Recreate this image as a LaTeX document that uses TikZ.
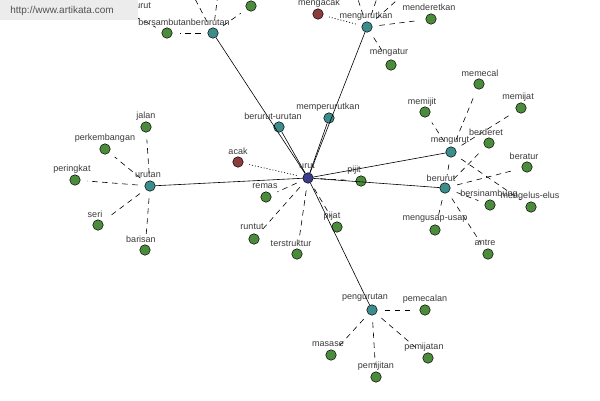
\documentclass[tikz,border=0pt]{standalone}
\usepackage{fontspec}
\setmainfont{Liberation Sans}
\definecolor{gnode}{HTML}{4A8C3C}
\definecolor{tnode}{HTML}{3C8C8C}
\definecolor{rnode}{HTML}{8C3C3C}
\definecolor{bnode}{HTML}{3C3C8C}
\definecolor{txt}{HTML}{3A3A3A}
\definecolor{wm}{HTML}{ECECEC}
\tikzset{
  vtx/.style={circle,draw=black,line width=0.5pt,minimum size=10.5pt,inner sep=0pt},
  gv/.style={vtx,fill=gnode},
  tv/.style={vtx,fill=tnode},
  rv/.style={vtx,fill=rnode},
  bv/.style={vtx,fill=bnode},
  lbl/.style={font=\fontsize{9}{10}\selectfont,text=txt,inner sep=0pt},
  solidedge/.style={draw=black,line width=0.6pt},
  dashedge/.style={draw=black,line width=0.6pt,dash pattern=on 5.5pt off 4.5pt,shorten <=7pt,shorten >=7pt},
  dotedge/.style={draw=black,line width=0.7pt,dash pattern=on 1pt off 2pt,shorten <=6pt,shorten >=6pt},
}
\begin{document}
\begin{tikzpicture}[x=1pt,y=-1pt]
\useasboundingbox (0,0) rectangle (600,400);
\clip (0,0) rectangle (600,400);
\fill[white] (0,0) rectangle (600,400);
% nodes
\node[bv] (urut) at (308,178) {};
\node[tv] (urutan) at (150,186) {};
\node[tv] (berurutUrutan) at (279,127) {};
\node[tv] (memperurutkan) at (329,118) {};
\node[tv] (pengurutan) at (372,310) {};
\node[tv] (mengurut) at (451,152) {};
\node[tv] (berurut) at (445,188) {};
\node[tv] (mengurutkan) at (367,27) {};
\node[tv] (bersambutan) at (213,33) {};
\node[rv] (acak) at (238,162) {};
\node[rv] (mengacak) at (318,14) {};
\node[gv] (jalan) at (146,127) {};
\node[gv] (perkembangan) at (105,149) {};
\node[gv] (peringkat) at (75,180) {};
\node[gv] (seri) at (98,225) {};
\node[gv] (barisan) at (145,250) {};
\node[gv] (remas) at (266,197) {};
\node[gv] (runtut) at (254,239) {};
\node[gv] (terstruktur) at (297,254) {};
\node[gv] (pijit) at (361,181) {};
\node[gv] (pijat) at (337,227) {};
\node[gv] (pemecalan) at (425,310) {};
\node[gv] (masase) at (331,355) {};
\node[gv] (pemijitan) at (376,377) {};
\node[gv] (pemijatan) at (428,358) {};
\node[gv] (memecal) at (479,84) {};
\node[gv] (memijit) at (425,112) {};
\node[gv] (memijat) at (521,108) {};
\node[gv] (berderet) at (489,143) {};
\node[gv] (beratur) at (527,167) {};
\node[gv] (bersinambung) at (490,205) {};
\node[gv] (mengeluselus) at (531,207) {};
\node[gv] (mengusapusap) at (435,230) {};
\node[gv] (antre) at (488,254) {};
\node[gv] (menderetkan) at (431,19) {};
\node[gv] (mengatur) at (391,65) {};
\node[gv] (gA) at (167,33) {};
\node[gv] (gB) at (251,6) {};
\node[gv] (hidden) at (124,11) {};
\coordinate (offA) at (350,-25);
\coordinate (offB) at (385,-25);
\coordinate (offC) at (425,-25);
\coordinate (offD) at (185,-20);
\coordinate (offE) at (221,-30);
% edges
\path[solidedge] (urut) -- (urutan);
\path[solidedge] (urut) -- (berurutUrutan);
\path[solidedge] (urut) -- (bersambutan);
\path[solidedge] (urut) -- (memperurutkan);
\path[solidedge] (urut) -- (mengurutkan);
\path[solidedge] (urut) -- (mengurut);
\path[solidedge] (urut) -- (berurut);
\path[solidedge] (urut) -- (pengurutan);
\path[dotedge] (urut) -- (acak);
\path[dotedge] (mengurutkan) -- (mengacak);
\foreach \t in {remas,runtut,terstruktur,pijit,pijat}
  \path[dashedge] (urut) -- (\t);
\foreach \t in {jalan,perkembangan,peringkat,seri,barisan}
  \path[dashedge] (urutan) -- (\t);
\foreach \t in {pemecalan,masase,pemijitan,pemijatan}
  \path[dashedge] (pengurutan) -- (\t);
\foreach \t in {memecal,memijit,memijat,mengeluselus,berurut}
  \path[dashedge] (mengurut) -- (\t);
\foreach \t in {berderet,beratur,bersinambung,mengusapusap,antre}
  \path[dashedge] (berurut) -- (\t);
\foreach \t in {menderetkan,mengatur,offA,offB,offC}
  \path[dashedge] (mengurutkan) -- (\t);
\foreach \t in {gA,gB,offD,offE}
  \path[dashedge] (bersambutan) -- (\t);
\path[dashedge] (hidden) -- (gA);
% labels
\node[lbl] (l-urut) at (307,166) {urut};
\node[lbl] (l-urutan) at (148,175) {urutan};
\node[lbl] (l-jalan) at (146,116) {jalan};
\node[lbl] (l-perkembangan) at (105,138) {perkembangan};
\node[lbl] (l-peringkat) at (72,169) {peringkat};
\node[lbl] (l-seri) at (95,214) {seri};
\node[lbl] (l-barisan) at (141,239) {barisan};
\node[lbl] (l-acak) at (238,151) {acak};
\node[lbl] (l-berurutUrutan) at (273,116) {berurut-urutan};
\node[lbl] (l-memperurutkan) at (328,107) {memperurutkan};
\node[lbl] (l-remas) at (265,186) {remas};
\node[lbl] (l-runtut) at (252,227) {runtut};
\node[lbl] (l-terstruktur) at (291,243) {terstruktur};
\node[lbl] (l-pijit) at (354,170) {pijit};
\node[lbl] (l-pijat) at (332,216) {pijat};
\node[lbl] (l-pengurutan) at (365,298) {pengurutan};
\node[lbl] (l-pemecalan) at (425,299) {pemecalan};
\node[lbl] (l-masase) at (328,344) {masase};
\node[lbl] (l-pemijitan) at (376,366) {pemijitan};
\node[lbl] (l-pemijatan) at (424,347) {pemijatan};
\node[lbl] (l-mengurut) at (450,141) {mengurut};
\node[lbl] (l-berurut) at (441,178) {berurut};
\node[lbl] (l-memecal) at (480,73) {memecal};
\node[lbl] (l-memijit) at (422,102) {memijit};
\node[lbl] (l-memijat) at (518,97) {memijat};
\node[lbl] (l-berderet) at (486,132) {berderet};
\node[lbl] (l-beratur) at (524,156) {beratur};
\node[lbl] (l-bersinambung) at (489,194) {bersinambung};
\node[lbl] (l-mengeluselus) at (530,196) {mengelus-elus};
\node[lbl] (l-mengusapusap) at (435,219) {mengusap-usap};
\node[lbl] (l-antre) at (485,243) {antre};
\node[lbl] (l-mengurutkan) at (366,16) {mengurutkan};
\node[lbl] (l-mengacak) at (319,3.5) {mengacak};
\node[lbl] (l-menderetkan) at (429,7) {menderetkan};
\node[lbl] (l-mengatur) at (389,53) {mengatur};
\node[lbl] (l-bersambutan) at (184,22) {bersambutanberurutan};
\node[lbl,anchor=east] (l-hidden) at (151,6) {urut};
% watermark
\fill[wm] (0,0) rectangle (138,20);
\node[font=\fontsize{10}{12}\selectfont,text=black!68,inner sep=0pt] (wmtext) at (62,10.5) {http://www.artikata.com};
\end{tikzpicture}
\end{document}
